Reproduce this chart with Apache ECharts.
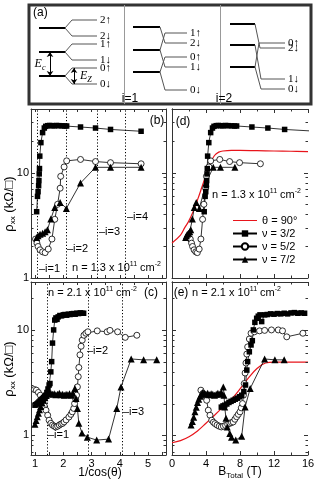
<!DOCTYPE html>
<html><head><meta charset="utf-8">
<script src="https://cdn.jsdelivr.net/npm/echarts@6/dist/echarts.min.js"></script>
<style>html,body{margin:0;padding:0;background:#fff}#c{width:317px;height:483px}</style>
</head><body><div id="c"></div>
<script>
// ---------- Panel (a): schematic level diagram (diagram units) ----------
const A_thick = [[10,36,23],[10,36,47],[10,36,71],[104,131,22],[104,131,45],[104,131,67],[201,226,19],[201,226,40],[201,226,62]];
const A_branch = [[36,23,43,15,68],[36,23,43,31,68],[36,47,43,39,68],[36,47,43,55,68],[36,71,43,63,68],[36,71,43,79,68],
  [131,22,136,38,158],[131,45,136,28,158],[131,45,136,62,158],[131,67,136,52,158],[131,67,136,85,158],
  [226,19,231,43,256],[226,40,232,74,256],[226,62,230,38,256],[226,62,232,84,256]];
const A_labels = ['2↑','2↓','1↑','1↓','0↑','0↓','2↓','1↑','1↓','0↑','0↓','2↓','1↓','0↑','0↓'];
const A_arrows = [[21,47,21,71],[45,63,45,79]];
const A_dividers = [95,191];

// ---------- Panel (b): n = 1.3e11, x = 1/cos(theta) ----------
const b_nu32 = [[1.06,4.25],[1.09,5.94],[1.11,6.58],[1.13,7.5],[1.14,8.4],[1.15,9.7],[1.16,10.9],[1.17,14.3],[1.21,19.2],[1.27,23.9],[1.33,26.4],[1.38,27.4],[1.45,27.8],[1.52,27.9],[1.6,27.8],[1.68,27.7],[1.76,27.9],[1.85,27.8],[1.95,27.7],[2.05,27.6],[2.12,27.6],[2.61,27.0],[3.14,26.4],[3.67,25.6],[4.75,24.6]];
const b_nu52 = [[1.02,2.34],[1.07,2.14],[1.11,1.99],[1.18,1.85],[1.27,1.77],[1.36,1.74],[1.47,1.88],[1.6,2.34],[1.7,3.6],[1.8,5.0],[1.89,7.1],[1.91,9.2],[2.03,11.3],[2.12,12.9],[2.61,13.3],[3.14,12.7],[3.67,12.4],[4.75,12.1]];
const b_nu72 = [[1.06,2.42],[1.11,2.51],[1.18,2.6],[1.27,2.66],[1.36,2.74],[1.44,2.86],[1.56,3.62],[1.70,4.67],[1.89,5.21],[2.11,4.57],[2.61,7.95],[3.14,11.2],[3.67,11.2],[4.75,11.2]];
const b_coincidence = [1.09, 2.11, 3.2, 4.19];

// ---------- Panel (d): n = 1.3e11, x = B_total ----------
const d_theta90 = [[0,2.15],[1,2.55],[1.5,3.0],[2,3.5],[2.5,4.3],[3,5.5],[3.5,7.2],[4,9.5],[4.5,12.2],[5,14.5],[5.5,15.6],[6,16.0],[7,16.2],[8,16.2],[10,16.1],[12,16.0],[14,15.9],[16,15.8]];
const d_nu32 = [[3.79,4.25],[3.9,5.94],[3.97,6.58],[4.04,7.5],[4.08,8.4],[4.12,9.7],[4.15,10.9],[4.19,14.3],[4.33,19.2],[4.55,23.9],[4.76,26.4],[4.94,27.4],[5.2,27.8],[5.45,27.9],[5.73,27.8],[6.0,27.7],[6.3,27.9],[6.6,27.8],[6.98,27.7],[7.34,27.6],[7.6,27.6],[9.4,27.0],[11.28,26.4],[13.25,25.6],[17.0,24.6]];
const d_nu52 = [[2.15,2.34],[2.3,2.14],[2.42,1.99],[2.6,1.85],[2.8,1.77],[2.98,1.74],[3.2,1.88],[3.4,2.34],[3.6,3.6],[3.75,5.0],[3.95,7.1],[4.05,9.2],[4.35,11.3],[4.55,12.9],[5.62,13.3],[6.78,12.7],[7.95,12.4],[10.4,12.1]];
const d_nu72 = [[1.6,2.42],[1.7,2.51],[1.8,2.6],[1.95,2.66],[2.09,2.74],[2.21,2.86],[2.4,3.62],[2.62,4.67],[2.85,5.21],[3.22,4.57],[4.0,7.95],[4.85,11.2],[5.7,11.2],[7.4,11.2]];

// ---------- Panel (c): n = 2.1e11, x = 1/cos(theta) ----------
const c_nu32 = [[1.0,1.93],[1.03,1.95],[1.06,1.98],[1.1,2.02],[1.14,2.07],[1.18,2.12],[1.22,2.17],[1.26,2.22],[1.3,2.28],[1.34,2.33],[1.38,2.4],[1.42,2.55],[1.46,2.75],[1.5,3.0],[1.53,3.1],[1.56,4.0],[1.59,5.0],[1.62,7.5],[1.66,10.0],[1.7,12.4],[1.74,13.0],[1.78,12.6],[1.82,13.3],[1.88,13.7],[1.94,13.6],[2.0,13.9],[2.06,14.0],[2.12,13.8],[2.18,14.1],[2.24,14.0],[2.3,14.2],[2.36,14.3],[2.42,14.1],[2.48,14.4],[2.54,14.3],[2.6,14.5],[2.66,14.4],[2.72,14.4]];
const c_nu52 = [[0.98,2.72],[1.05,2.68],[1.12,2.55],[1.19,2.4],[1.27,2.07],[1.33,1.9],[1.39,1.73],[1.45,1.55],[1.5,1.39],[1.56,1.3],[1.62,1.25],[1.68,1.22],[1.74,1.2],[1.8,1.22],[1.86,1.25],[1.92,1.28],[1.98,1.3],[2.03,1.34],[2.1,1.4],[2.2,1.49],[2.27,1.58],[2.32,1.67],[2.37,1.8],[2.4,2.0],[2.44,2.2],[2.47,2.4],[2.5,2.88],[2.53,3.6],[2.55,4.4],[2.59,5.8],[2.63,7.0],[2.67,8.0],[2.73,8.9],[2.8,9.3],[2.87,9.6],[3.2,9.8],[3.55,9.6],[3.65,9.9],[3.92,9.6],[4.19,8.5],[4.6,8.9]];
const c_nu72 = [[1.0,1.27],[1.04,1.38],[1.08,1.5],[1.12,1.62],[1.16,1.75],[1.2,1.88],[1.25,2.02],[1.3,2.15],[1.35,2.27],[1.4,2.38],[1.45,2.48],[1.5,2.55],[1.56,2.5],[1.62,2.45],[1.68,2.48],[1.74,2.42],[1.8,2.45],[1.86,2.5],[1.92,2.42],[1.98,2.45],[2.04,2.4],[2.1,2.45],[2.16,2.42],[2.22,2.48],[2.28,2.4],[2.34,2.5],[2.41,2.78],[2.45,2.23],[2.5,1.8],[2.55,1.3],[2.66,1.05],[2.85,0.96],[3.18,0.9],[3.6,0.92],[3.89,1.8],[4.04,2.88],[4.4,5.3],[4.84,5.2],[5.3,5.2]];
const c_coincidence = [1.45, 2.88, 4.1];

// ---------- Panel (e): n = 2.1e11, x = B_total ----------
const e_theta90 = [[0,0.85],[1,0.89],[2,0.97],[3,1.1],[4,1.3],[5,1.55],[6,1.85],[7,2.2],[8,2.75],[9,3.5],[10,4.3],[11,4.85],[12,4.95],[14,4.95],[16,4.95]];
const e_nu32 = [[5.8,1.85],[6.0,1.9],[6.2,1.93],[6.45,1.98],[6.7,2.05],[6.95,2.1],[7.2,2.15],[7.45,2.2],[7.7,2.25],[7.95,2.32],[8.2,2.4],[8.45,2.6],[8.65,3.0],[8.8,4.16],[8.9,5.0],[9.1,6.2],[9.3,7.2],[9.45,7.9],[9.57,10],[9.75,11.8],[9.96,12.9],[10.15,13.5],[10.35,13.9],[10.55,12.0],[10.9,13.9],[11.2,14.0],[11.6,14.2],[12.0,14.1],[12.4,14.3],[12.8,14.2],[13.2,14.4],[13.6,14.2],[14.0,14.5],[14.4,14.6],[14.8,14.4],[15.2,14.5],[15.6,14.4]];
const e_nu52 = [[3.4,2.68],[3.65,2.5],[3.85,2.35],[4.08,2.15],[4.27,1.73],[4.47,1.55],[4.67,1.39],[4.87,1.33],[5.06,1.29],[5.3,1.25],[5.55,1.22],[5.8,1.2],[6.05,1.22],[6.3,1.24],[6.55,1.27],[6.8,1.3],[7.0,1.32],[7.2,1.34],[7.4,1.42],[7.6,1.5],[7.8,1.58],[8.0,1.67],[8.15,1.82],[8.3,2.0],[8.4,2.4],[8.5,3.1],[8.6,3.9],[8.7,4.85],[8.8,5.9],[8.9,6.9],[9.1,8.2],[9.3,9.3],[9.7,9.6],[10.3,9.8],[10.9,9.9],[11.7,10.0],[12.5,10.0],[13.0,9.8],[13.5,8.6],[15.4,9.3]];
const e_nu72 = [[2.24,1.25],[2.4,1.35],[2.55,1.48],[2.7,1.67],[2.85,1.85],[3.0,2.05],[3.15,2.2],[3.3,2.35],[3.45,2.45],[3.6,2.55],[3.8,2.5],[4.0,2.45],[4.2,2.5],[4.4,2.42],[4.6,2.48],[4.8,2.45],[5.0,2.4],[5.2,2.45],[5.4,2.5],[5.6,2.45],[5.8,2.55],[6.04,2.88],[6.12,2.4],[6.2,1.86],[6.35,1.45],[6.5,1.2],[6.8,1.04],[7.0,0.96],[7.5,0.9],[8.2,0.98],[8.6,1.86],[9.2,2.78],[10.9,5.3],[12.1,5.2],[13.2,5.2]];

// ---------- axis ticks ----------
const logTicks = [0.6,0.7,0.8,0.9,1,2,3,4,5,6,7,8,9,10,20,30,40];
const logLabels = [1,10];
const cosTicks = [1,1.5,2,2.5,3,3.5,4,4.5,5,5.5];
const cosLabels = [1,2,3,4,5];

const FONT = 'Liberation Sans';
const AX = '#333';
const RED = '#e8141b';
const COS_MIN = 0.86, COS_MAX = 5.63;
const YB = [1, 40], YC = [0.65, 28.5];

function xCos(grid, pos, labels) {
  return {type:'value', gridIndex:grid, position:pos, min:COS_MIN, max:COS_MAX,
    axisLine:{show:true, lineStyle:{color:AX, width:1}},
    axisTick:{show:true, inside:true, length:3, customValues:cosTicks, lineStyle:{color:AX}},
    axisLabel:{show:labels, customValues:cosLabels, margin:3, fontSize:11, color:'#000', fontFamily:FONT},
    splitLine:{show:false}};
}
function xB(grid, pos, labels) {
  return {type:'value', gridIndex:grid, position:pos, min:0, max:16, interval:4,
    axisLine:{show:true, lineStyle:{color:AX, width:1}},
    axisTick:{show:true, inside:true, length:4, lineStyle:{color:AX}},
    minorTick:{show:true, splitNumber:2, length:2.5, lineStyle:{color:AX}},
    axisLabel:{show:labels, margin:3, fontSize:11, color:'#000', fontFamily:FONT},
    splitLine:{show:false}, minorSplitLine:{show:false}};
}
function yLog(grid, pos, range, labels) {
  return {type:'log', logBase:10, gridIndex:grid, position:pos, min:range[0], max:range[1],
    axisLine:{show:true, lineStyle:{color:AX, width:1}},
    axisTick:{show:false},
    axisLabel:{show:labels, margin:2, fontSize:11, color:'#000', fontFamily:FONT,
      formatter: v => (logLabels.indexOf(Math.round(v*1000)/1000) >= 0 ? String(Math.round(v)) : '')},
    splitLine:{show:false}};
}

function dataSeries(name, data, idx, symbol, size, extra) {
  const open = symbol === 'circle';
  return Object.assign({
    type:'line', name, data, xAxisIndex:idx, yAxisIndex:idx,
    symbol, symbolSize:size, showAllSymbol:true, silent:true, clip:true,
    lineStyle:{color:'#000', width:0.8},
    itemStyle: open ? {color:'#fff', borderColor:'#000', borderWidth:0.8} : {color:'#000', borderWidth:0},
    emphasis:{disabled:true}, z:5
  }, extra || {});
}
function redSeries(data, idx) {
  return {type:'line', name:'θ = 90°', data, xAxisIndex:idx, yAxisIndex:idx, symbol:'none',
    smooth:0.4, silent:true, clip:true, lineStyle:{color:RED, width:1.2}, itemStyle:{color:RED}, z:3};
}
function dotted(vals) {
  return {symbol:'none', silent:true, label:{show:false},
    lineStyle:{type:[1.2,2], color:'#000', width:1}, data: vals.map(v => ({xAxis:v}))};
}
function tickSeries(idx, xmin, range) {
  return {type:'custom', xAxisIndex:idx, yAxisIndex:idx, silent:true, z:10,
    data: logTicks.filter(v => v >= range[0] && v <= range[1]).map(v => [xmin, v]),
    renderItem: function (params, api) {
      const cs = params.coordSys;
      const v = api.value(1);
      const y = Math.round(api.coord([api.value(0), v])[1]) + 0.5;
      const L = (v === 1 || v === 10) ? 4 : 2.5;
      const st = {stroke:AX, lineWidth:1};
      return {type:'group', children:[
        {type:'line', shape:{x1:cs.x, y1:y, x2:cs.x+L, y2:y}, style:st},
        {type:'line', shape:{x1:cs.x+cs.width, y1:y, x2:cs.x+cs.width-L, y2:y}, style:st}
      ]};
    }};
}

const series = [
  // panel (a)
  {type:'custom', xAxisIndex:0, yAxisIndex:0, silent:true, data:A_thick,
    renderItem:(p, api) => { const a = api.coord([api.value(0), api.value(2)]), b = api.coord([api.value(1), api.value(2)]);
      return {type:'line', shape:{x1:a[0], y1:a[1], x2:b[0], y2:b[1]}, style:{stroke:'#000', lineWidth:2}}; }},
  {type:'custom', xAxisIndex:0, yAxisIndex:0, silent:true, data:A_branch,
    renderItem:(p, api) => {
      const s = api.coord([api.value(0), api.value(1)]), k = api.coord([api.value(2), api.value(3)]), e = api.coord([api.value(4), api.value(3)]);
      return {type:'group', children:[
        {type:'polyline', shape:{points:[s, k, e]}, style:{stroke:'#555', lineWidth:1, fill:null}},
        {type:'text', x:e[0]+3, y:e[1], style:{text:A_labels[p.dataIndex], fill:'#000', fontFamily:'Liberation Serif', fontSize:11, align:'left', verticalAlign:'middle'}}
      ]}; }},
  {type:'custom', xAxisIndex:0, yAxisIndex:0, silent:true, data:A_dividers.map(v => [v, 0, 99]),
    renderItem:(p, api) => { const a = api.coord([api.value(0), api.value(1)]), b = api.coord([api.value(0), api.value(2)]);
      return {type:'line', shape:{x1:Math.round(a[0])+0.5, y1:a[1], x2:Math.round(b[0])+0.5, y2:b[1]}, style:{stroke:'#999', lineWidth:1}}; }},
  {type:'lines', coordinateSystem:'cartesian2d', xAxisIndex:0, yAxisIndex:0, silent:true,
    symbol:['arrow','arrow'], symbolSize:5, lineStyle:{color:'#000', width:1, opacity:1},
    data:A_arrows.map(a => ({coords:[[a[0], a[1]], [a[2], a[3]]]}))},

  // panel (b)
  dataSeries('ν = 5/2', b_nu52, 1, 'circle', 6),
  dataSeries('ν = 7/2', b_nu72, 1, 'triangle', 7, {markLine: dotted(b_coincidence)}),
  dataSeries('ν = 3/2', b_nu32, 1, 'rect', 5.5),
  tickSeries(1, COS_MIN, YB),
  // panel (d)
  redSeries(d_theta90, 3),
  dataSeries('ν = 5/2', d_nu52, 3, 'circle', 6),
  dataSeries('ν = 7/2', d_nu72, 3, 'triangle', 7),
  dataSeries('ν = 3/2', d_nu32, 3, 'rect', 5.5),
  tickSeries(3, 0, YB),
  // panel (c)
  dataSeries('ν = 5/2', c_nu52, 5, 'circle', 6),
  dataSeries('ν = 7/2', c_nu72, 5, 'triangle', 7, {markLine: dotted(c_coincidence)}),
  dataSeries('ν = 3/2', c_nu32, 5, 'rect', 5.5),
  tickSeries(5, COS_MIN, YC),
  // panel (e)
  redSeries(e_theta90, 7),
  dataSeries('ν = 5/2', e_nu52, 7, 'circle', 6),
  dataSeries('ν = 7/2', e_nu72, 7, 'triangle', 7),
  dataSeries('ν = 3/2', e_nu32, 7, 'rect', 5.5),
  tickSeries(7, 0, YC)
];

const richN = {
  sup:{fontSize:7, fontFamily:FONT, verticalAlign:'top', lineHeight:8, fill:'#000'},
  sub:{fontSize:8, fontFamily:FONT, verticalAlign:'bottom', lineHeight:9, fill:'#000'},
  it:{fontSize:12, fontFamily:'Liberation Serif', fontStyle:'italic', lineHeight:15, fill:'#000'},
  isub:{fontSize:8, fontFamily:'Liberation Serif', fontStyle:'italic', verticalAlign:'bottom', lineHeight:9, fill:'#000'}
};
function T(text, x, y, align, extra) {
  return Object.assign({type:'text', x, y, z:100, silent:true,
    style:Object.assign({text, fill:'#000', fontFamily:FONT, fontSize:11, lineHeight:15, align:align||'left', verticalAlign:'middle', rich:richN}, (extra && extra.style) || {})},
    extra && extra.el || {});
}
const dens13 = 'n = 1.3 x 10{sup|11} cm{sup|-2}';
const dens21 = 'n = 2.1 x 10{sup|11} cm{sup|-2}';
const graphics = [
  T('(a)', 33, 13, 'left', {style:{fontSize:12}}),
  T('i=1', 130, 99, 'center', {style:{fontSize:12}}),
  T('i=2', 224, 99, 'center', {style:{fontSize:12}}),
  T('{it|E}{isub|c}', 40, 64, 'center', {style:{backgroundColor:'#fff'}}),
  T('{it|E}{isub|Z}', 80, 76, 'left'),
  T('(b)', 157, 121, 'center', {style:{fontSize:12}}),
  T('(d)', 183, 122, 'center', {style:{fontSize:12}}),
  T('(c)', 151, 293, 'center', {style:{fontSize:12}}),
  T('(e)', 181, 293, 'center', {style:{fontSize:12}}),
  T(dens13, 72, 268, 'left'),
  T(dens13, 212, 195, 'left'),
  T(dens21, 48, 293, 'left'),
  T(dens21, 192, 293, 'left'),
  T('–i=1', 39, 269, 'left'),
  T('–i=2', 67, 249, 'left'),
  T('–i=3', 99, 232, 'left'),
  T('–i=4', 127, 217, 'left'),
  T('–i=1', 48, 435, 'left'),
  T('–i=2', 87, 351, 'left'),
  T('–i=3', 123, 412, 'left'),
  T('ρ{sub|xx} (kΩ/□)', 9, 204, 'center', {style:{fontSize:13}, el:{rotation:Math.PI/2}}),
  T('ρ{sub|xx} (kΩ/□)', 9, 369, 'center', {style:{fontSize:13}, el:{rotation:Math.PI/2}}),
  T('1/cos(θ)', 100, 473, 'center', {style:{fontSize:12}}),
  T('B{sub|Total} (T)', 240, 472, 'center', {style:{fontSize:12}})
];

const lineIcon = 'path://M0,0L0.01,0L0.01,0.01L0,0.01Z M0,3.4L24,3.4L24,4.6L0,4.6Z M23.99,7.99L24,7.99L24,8L23.99,8Z';

const option = {
  animation:false,
  backgroundColor:'#fff',
  textStyle:{fontFamily:FONT},
  grid:[
    {left:29, top:5, width:282, height:99, show:true, borderColor:'#333', borderWidth:3, backgroundColor:'transparent', outerBoundsMode:'none', containLabel:false},
    {left:31, top:109, width:135, height:169, outerBoundsMode:'none', containLabel:false},
    {left:172, top:109, width:136, height:169, outerBoundsMode:'none', containLabel:false},
    {left:31, top:282, width:135, height:173, outerBoundsMode:'none', containLabel:false},
    {left:172, top:282, width:136, height:173, outerBoundsMode:'none', containLabel:false}
  ],
  xAxis:[
    {type:'value', gridIndex:0, min:0, max:282, show:false},
    xCos(1,'bottom',false), xCos(1,'top',false),
    xB(2,'bottom',false), xB(2,'top',false),
    xCos(3,'bottom',true), xCos(3,'top',false),
    xB(4,'bottom',true), xB(4,'top',false)
  ],
  yAxis:[
    {type:'value', gridIndex:0, min:0, max:99, inverse:true, show:false},
    yLog(1,'left',YB,true), yLog(1,'right',YB,false),
    yLog(2,'left',YB,false), yLog(2,'right',YB,false),
    yLog(3,'left',YC,true), yLog(3,'right',YC,false),
    yLog(4,'left',YC,false), yLog(4,'right',YC,false)
  ],
  legend:{orient:'vertical', left:232, top:215, itemWidth:24, itemHeight:8, itemGap:2, padding:0, selectedMode:false,
    textStyle:{fontSize:11, fontFamily:FONT, color:'#000'},
    data:[{name:'θ = 90°', icon:lineIcon, itemStyle:{color:RED}},'ν = 3/2','ν = 5/2','ν = 7/2']},
  graphic:{elements:graphics},
  series
};
const chart = echarts.init(document.getElementById('c'), null, {width:317, height:483});
chart.setOption(option);
</script></body></html>
